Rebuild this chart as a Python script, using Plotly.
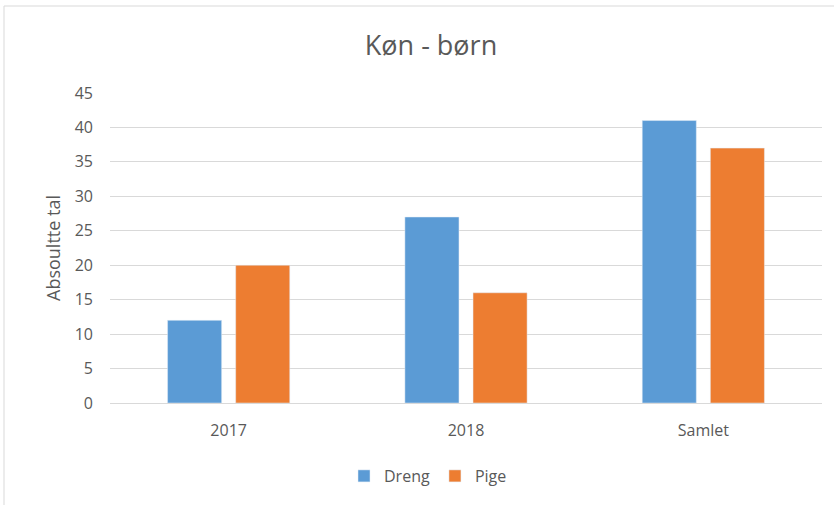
import plotly.graph_objects as go

categories = ["2017", "2018", "Samlet"]
dreng = [12, 27, 41]
pige = [20, 16, 37]
yticks = [0, 5, 10, 15, 20, 25, 30, 35, 40, 45]

W, H = 834, 505
L, R, T, B = 110, 12, 93, 102
pw, ph = W - L - R, H - T - B

def px(x):
    return (x - L) / pw

def py(y):
    return (H - B - y) / ph

font = "'Open Sans', Lato, sans-serif"
txt = "#595959"

fig = go.Figure()
fig.add_trace(go.Bar(name="Dreng", x=categories, y=dreng, marker_color="#5B9BD5"))
fig.add_trace(go.Bar(name="Pige", x=categories, y=pige, marker_color="#ED7D31"))

fig.update_layout(
    width=W, height=H,
    margin=dict(l=L, r=R, t=T, b=B, autoexpand=False),
    paper_bgcolor="white", plot_bgcolor="white",
    barmode="group", bargap=0.426, bargroupgap=0.206,
    font=dict(family=font, color=txt, size=16),
    title=dict(text="Køn - børn", x=431 / W, xanchor="center",
               y=1 - 46 / H, yanchor="middle",
               font=dict(size=27, color=txt, family=font)),
    showlegend=True,
    legend=dict(orientation="h", x=px(428), xanchor="center", y=py(476), yanchor="middle",
                font=dict(size=16, color=txt), itemwidth=30, traceorder="normal"),
    xaxis=dict(showgrid=False, showline=True, linecolor="#D9D9D9", linewidth=1,
               ticks="", tickfont=dict(size=16, color=txt), ticklabelstandoff=13),
    yaxis=dict(range=[0, 45], tickvals=yticks, showgrid=True, gridcolor="#D9D9D9",
               gridwidth=1, zeroline=False, showline=False, ticks="",
               tickfont=dict(size=16, color=txt), ticklabelstandoff=16,
               title=dict(text="Absoultte tal", font=dict(size=18, color=txt), standoff=9)),
    shapes=[
        dict(type="line", xref="paper", yref="paper", x0=px(4), x1=px(834), y0=py(6), y1=py(6),
             line=dict(color="#D9D9D9", width=1)),
        dict(type="line", xref="paper", yref="paper", x0=px(4), x1=px(4), y0=py(6), y1=py(505),
             line=dict(color="#D9D9D9", width=1)),
    ],
)

fig.write_html("out.html", config={"displayModeBar": False},
               post_script="document.body.style.margin='0';")
